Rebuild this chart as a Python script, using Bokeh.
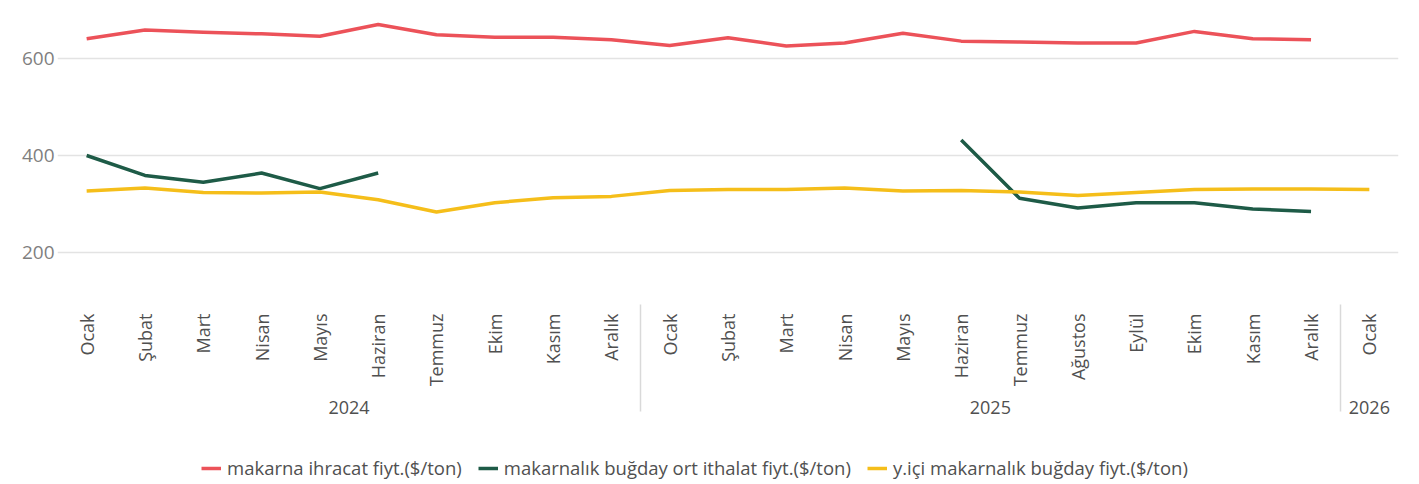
from bokeh.plotting import figure
from bokeh.layouts import column
from bokeh.models import FactorRange, Legend, LegendItem, FixedTicker, ColumnDataSource
from bokeh.embed import file_html
from bokeh.resources import INLINE
import math

nan = float("nan")

years = ["2024"] * 10 + ["2025"] * 12 + ["2026"]
months = ["Ocak", "Şubat", "Mart", "Nisan", "Mayıs", "Haziran", "Temmuz", "Ekim", "Kasım", "Aralık",
          "Ocak", "Şubat", "Mart", "Nisan", "Mayıs", "Haziran", "Temmuz", "Ağustos", "Eylül", "Ekim", "Kasım", "Aralık",
          "Ocak"]

makarna_ihracat = [640, 658, 653, 650, 645, 669, 648, 643, 643, 638,
                   626, 642, 625, 631, 651, 635, 633, 631, 631, 655, 640, 638,
                   nan]
bugday_ithalat = [400, 359, 345, 364, 332, 364, nan, nan, nan, nan,
                  nan, nan, nan, nan, nan, 432, 312, 292, 303, 303, 290, 285,
                  nan]
yici_bugday = [327, 333, 324, 323, 325, 309, 284, 303, 313, 316,
               328, 330, 330, 333, 327, 328, 325, 318, 324, 330, 331, 331,
               330]

series_names = ["makarna ihracat fiyt.($/ton)",
                "makarnalık buğday ort ithalat fiyt.($/ton)",
                "y.içi makarnalık buğday fiyt.($/ton)"]
colors = ["#EC5259", "#1E5B47", "#F5BE1A"]
y_ticks = [200, 400, 600]
y_start, y_end = 100, 700

factors = list(zip(years, months))
cols = ["a", "b", "c"]

src = ColumnDataSource(data=dict(x=factors, a=makarna_ihracat, b=bugday_ithalat, c=yici_bugday))

FONT = "Open Sans"
TEXT = "#505050"

xr = FactorRange(*factors, group_padding=0, factor_padding=0, range_padding=0)

p = figure(x_range=xr, y_range=(y_start, y_end),
           width=1403, height=429,
           output_backend="svg", toolbar_location=None,
           min_border_left=57, min_border_right=5, min_border_top=9, min_border_bottom=128)
p.outline_line_color = None
p.background_fill_color = "white"
p.border_fill_color = "white"

for col, color in zip(cols, colors):
    p.line("x", col, source=src, line_color=color, line_width=3.5, line_join="round")

# y axis
p.yaxis.ticker = FixedTicker(ticks=y_ticks)
p.yaxis.axis_line_color = None
p.yaxis.major_tick_line_color = None
p.yaxis.minor_tick_line_color = None
p.yaxis.major_tick_in = 0
p.yaxis.major_tick_out = 0
p.yaxis.major_label_standoff = 3
p.yaxis.major_label_text_font = FONT
p.yaxis.major_label_text_font_size = "19px"
p.yaxis.major_label_text_color = "#7F7F7F"

p.ygrid.ticker = FixedTicker(ticks=y_ticks)
p.ygrid.grid_line_color = "#E3E3E3"
p.ygrid.grid_line_width = 1.5
p.xgrid.grid_line_color = None

xa = p.xaxis[0]
xa.axis_line_color = None
xa.major_tick_line_color = None
xa.major_tick_in = 0
xa.major_tick_out = 0
xa.major_label_standoff = 12
xa.major_label_orientation = math.pi / 2
xa.major_label_text_font = FONT
xa.major_label_text_font_size = "18px"
xa.major_label_text_color = TEXT
xa.group_text_font = FONT
xa.group_text_font_size = "18px"
xa.group_text_color = TEXT
xa.group_text_font_style = "normal"
xa.separator_line_color = "#D9D9D9"
xa.separator_line_width = 1.5

# legend strip below the chart (same series, drawn outside its visible y range)
q = figure(x_range=xr, y_range=(0, 1), width=1403, height=55,
           output_backend="svg", toolbar_location=None,
           min_border_left=0, min_border_right=0, min_border_top=0, min_border_bottom=0)
q.outline_line_color = None
q.xaxis.visible = False
q.yaxis.visible = False
q.grid.visible = False
leg_renderers = [q.line("x", col, source=src, line_color=color, line_width=3.5)
                 for col, color in zip(cols, colors)]

legend = Legend(items=[LegendItem(label=n, renderers=[r]) for n, r in zip(series_names, leg_renderers)],
                orientation="horizontal", location=(144, 4),
                border_line_color=None, background_fill_alpha=0,
                label_text_font=FONT, label_text_font_size="18.5px", label_text_color=TEXT,
                glyph_width=20, glyph_height=20, label_height=20, label_standoff=6, spacing=16,
                padding=0, margin=0)
q.add_layout(legend, "center")

layout = column(p, q, spacing=0)
open("out.html", "w").write(file_html(layout, INLINE))
